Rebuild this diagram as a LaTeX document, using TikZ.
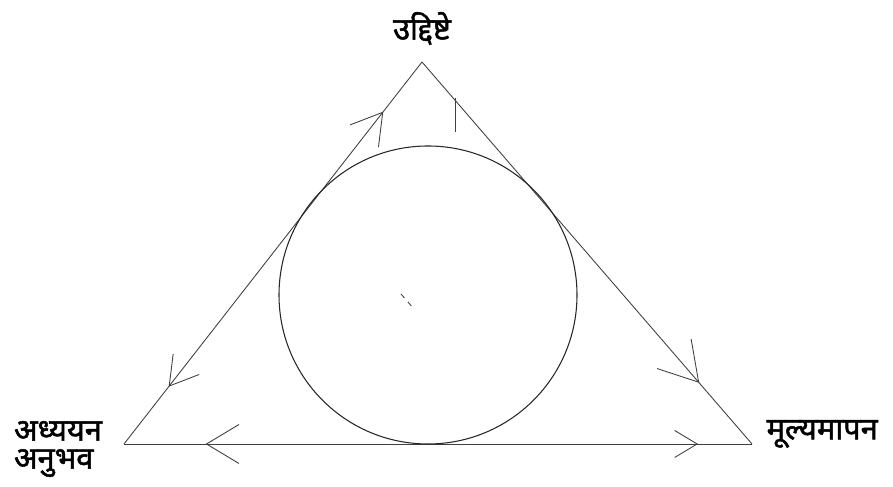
\documentclass[tikz,border=0pt]{standalone}
\usepackage{fontspec}
\newfontfamily\devfont[Script=Devanagari, FakeBold=1.6]{Noto Sans}
\usepackage{tikz}
\usetikzlibrary{
  arrows.meta,
  positioning,
  decorations.markings
}

\begin{document}
\begin{tikzpicture}[
    side/.style={line width=0.5pt, black!75},
    ring/.style={line width=0.6pt, black!85},
    lbl/.style={font=\devfont\fontsize{17.5}{16}\selectfont, align=left, inner sep=1pt},
    fwd/.style 2 args={postaction={decorate, decoration={markings,
        mark=at position #1 with {\arrow{Straight Barb[length=#2, width=#2*1.2, line width=0.5pt]}}}}},
    bwd/.style 2 args={postaction={decorate, decoration={markings,
        mark=at position #1 with {\arrowreversed{Straight Barb[length=#2, width=#2*1.2, line width=0.5pt]}}}}}
  ]
    \useasboundingbox (0,0) rectangle (17.86,9.74);
    % corners of the triangle
    \coordinate (top) at (8.44,8.50);
    \coordinate (bl)  at (2.48,0.86);
    \coordinate (br)  at (15.04,0.86);
    \node[lbl] (obj)  [above=0.3cm of top] {उद्दिष्टे};
    \node[lbl] (exp)  [left=0.4cm of bl, yshift=-0.1cm] {अध्ययन\\अनुभव};
    \node[lbl] (eval) [right=0.25cm of br, yshift=0.2cm] {मूल्यमापन};
    % sides with arrows
    \draw[side, fwd={0.87}{0.6cm}, bwd={0.15}{0.55cm}] (bl) -- (top);
    \draw[side, fwd={0.84}{0.75cm}] (top) -- (br);
    \draw[side, bwd={0.13}{0.65cm}, fwd={0.914}{0.45cm}] (bl) -- (br);
    % inscribed circle
    \node[draw, ring, circle, minimum size=5.96cm, inner sep=0pt] (inc) at (8.56,3.84) {};
    % stray strokes
    \coordinate (s1) at (9.1,7.78);
    \coordinate (s2) at (9.1,7.10);
    \draw[side] (s1) -- (s2);
    \coordinate (c1) at (8.02,3.86);
    \coordinate (c2) at (8.28,3.56);
    \draw[side, dashed] (c1) -- (c2);
\end{tikzpicture}
\end{document}
